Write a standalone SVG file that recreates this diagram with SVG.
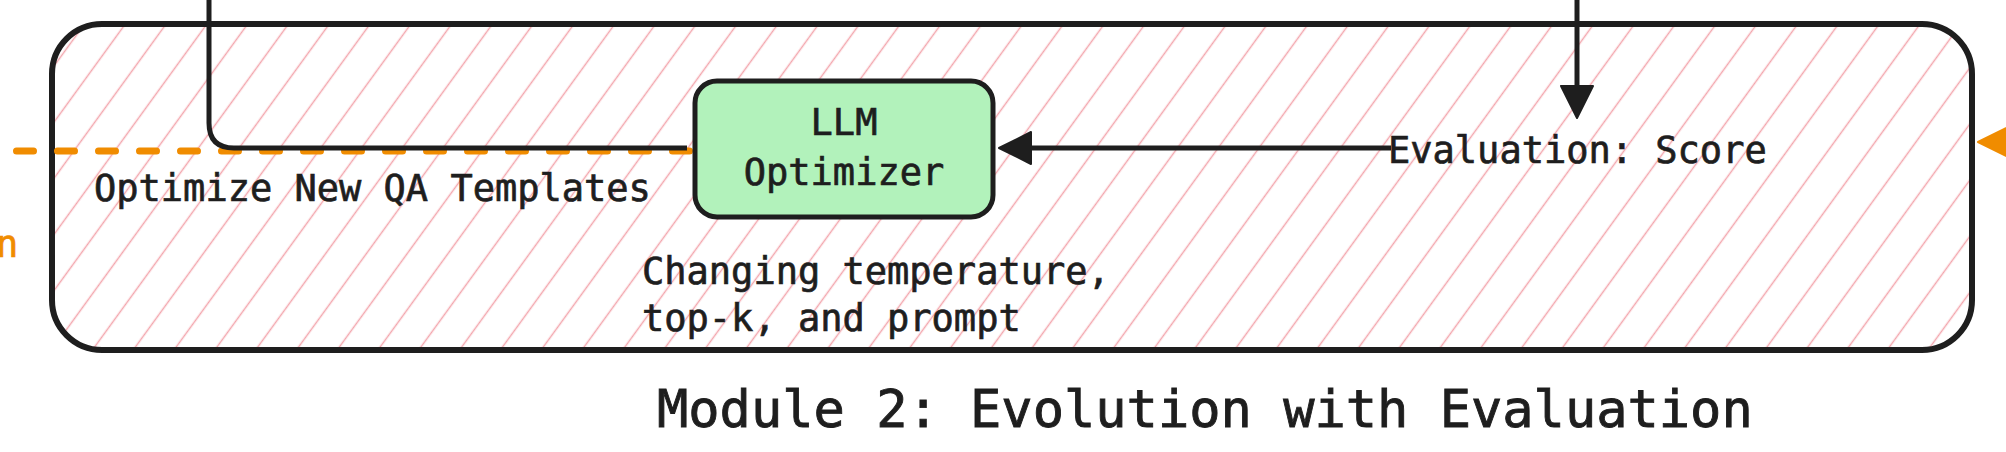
<svg xmlns="http://www.w3.org/2000/svg" width="2006" height="452" viewBox="0 0 2006 452">
  <style>
    .txt { font-family: "DejaVu Sans Mono", "Liberation Mono", monospace; font-size: 37px; fill: #1e1e1e; stroke: #1e1e1e; stroke-width: 0.7px; }
    .title { font-family: "DejaVu Sans Mono", "Liberation Mono", monospace; font-size: 52px; fill: #1e1e1e; stroke: #1e1e1e; stroke-width: 0.9px; }
    .orange-txt { font-family: "DejaVu Sans Mono", "Liberation Mono", monospace; font-size: 37px; fill: #f08c00; stroke: #f08c00; stroke-width: 0.7px; }
    .edge { fill: none; stroke: #1e1e1e; stroke-width: 5; stroke-linejoin: round; }
    .dashed { fill: none; stroke: #f08c00; stroke-width: 7; stroke-linecap: round; stroke-dasharray: 17 24; stroke-dashoffset: 24.5; }
    .box { stroke: #1e1e1e; }
  </style>
  <defs>
    <pattern id="hatch" patternUnits="userSpaceOnUse" width="33" height="33" patternTransform="rotate(-54)">
      <line x1="-5" y1="16.5" x2="38" y2="16.5" stroke="#f3a6ad" stroke-width="1.6"/>
    </pattern>
    <marker id="arrow" markerUnits="userSpaceOnUse" viewBox="0 0 36 36" markerWidth="36" markerHeight="36" refX="23" refY="17" orient="auto">
      <path d="M1,1 L33,17 L1,33 Z" fill="#1e1e1e" stroke="#1e1e1e" stroke-width="2" stroke-linejoin="round"/>
    </marker>
  </defs>

  <rect width="2006" height="452" fill="#ffffff"/>

  <g id="module2">
    <rect x="52" y="24" width="1920" height="326" rx="50" ry="50" fill="url(#hatch)"/>
    <rect class="box" x="52" y="24" width="1920" height="326" rx="50" ry="50" fill="none" stroke-width="6"/>
  </g>

  <g id="connectors">
    <path class="dashed" d="M0,151 L690,151"/>
    <path class="edge" d="M209,0 L209,123 Q209,148 234,148 L687,148"/>
    <path class="edge" d="M1577,0 L1577,108" marker-end="url(#arrow)"/>
    <path class="edge" d="M1391,148 L1009,148" marker-end="url(#arrow)"/>
    <polygon points="1978,142 2012,125 2012,159" fill="#f08c00" stroke="#f08c00" stroke-width="2" stroke-linejoin="round"/>
  </g>

  <g id="llm-optimizer">
    <rect class="box" x="695" y="81" width="298" height="136" rx="22" ry="22" fill="#b2f2bb" stroke-width="5"/>
    <text class="txt" x="844" y="135" text-anchor="middle">LLM</text>
    <text class="txt" x="844" y="185" text-anchor="middle">Optimizer</text>
  </g>

  <g id="label-optimize">
    <text class="txt" x="94" y="201">Optimize New QA Templates</text>
  </g>

  <g id="label-evaluation">
    <text class="txt" x="1388" y="163">Evaluation: Score</text>
  </g>

  <g id="label-changing">
    <text class="txt" x="642" y="284">Changing temperature,</text>
    <text class="txt" x="642" y="331">top-k, and prompt</text>
  </g>

  <g id="label-orange">
    <text class="orange-txt" x="-4" y="257">n</text>
  </g>

  <g id="title">
    <text class="title" x="657" y="427">Module 2: Evolution with Evaluation</text>
  </g>
</svg>
